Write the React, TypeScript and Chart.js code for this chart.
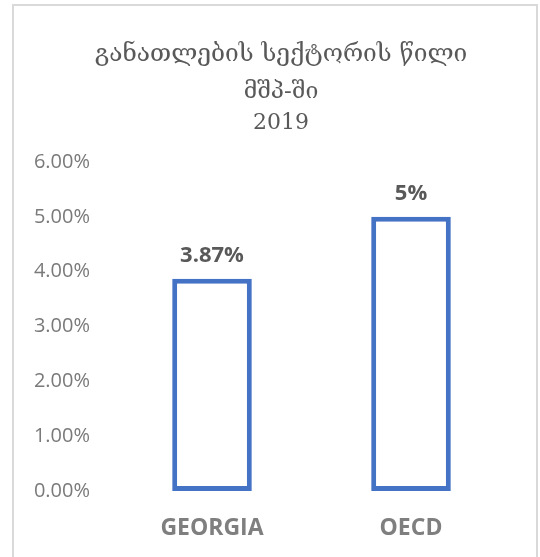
import React, { useEffect, useRef } from "react";
import { Chart, registerables } from "chart.js";

Chart.register(...registerables);

const titleLines = ["განათლების სექტორის წილი", "მშპ-ში", "2019"];
const categories = ["GEORGIA", "OECD"];
const shareValues = [3.87, 5];
const valueLabels = ["3.87%", "5%"];
const yMin = 0;
const yMax = 6;
const yStep = 1;

const titleStyle = {
  centerX: 281,
  baselines: [61, 98, 129],
  sizes: [24.5, 23, 22],
  color: "#595959",
  family: '"DejaVu Serif", serif',
};

const titlePlugin = {
  id: "customTitle",
  afterDraw(chart: any) {
    const ctx = chart.ctx;
    ctx.save();
    ctx.fillStyle = titleStyle.color;
    ctx.textAlign = "center";
    ctx.textBaseline = "alphabetic";
    titleLines.forEach((line, i) => {
      ctx.font = `${titleStyle.sizes[i]}px ${titleStyle.family}`;
      ctx.fillText(line, titleStyle.centerX, titleStyle.baselines[i]);
    });
    ctx.restore();
  },
};

const valueLabelPlugin = {
  id: "valueLabels",
  afterDatasetsDraw(chart: any) {
    const ctx = chart.ctx;
    const meta = chart.getDatasetMeta(0);
    ctx.save();
    ctx.font = 'bold 22px "Open Sans"';
    ctx.fillStyle = "#595959";
    ctx.textAlign = "center";
    ctx.textBaseline = "alphabetic";
    meta.data.forEach((bar: any, i: number) => {
      ctx.fillText(valueLabels[i], bar.x, bar.y - 17);
    });
    ctx.restore();
  },
};

export default function App() {
  const canvasRef = useRef<HTMLCanvasElement | null>(null);

  useEffect(() => {
    if (!canvasRef.current) return;
    const chart = new Chart(canvasRef.current, {
      type: "bar",
      data: {
        labels: categories,
        datasets: [
          {
            data: shareValues,
            backgroundColor: "#ffffff",
            borderColor: "#4472C4",
            borderWidth: 5,
            borderSkipped: false,
            categoryPercentage: 1,
            barPercentage: 0.4,
          },
        ],
      },
      options: {
        responsive: false,
        animation: false,
        layout: { padding: { top: 162, left: 0, right: 29.5, bottom: 0 } },
        plugins: {
          legend: { display: false },
          tooltip: { enabled: false },
          title: { display: false },
        },
        scales: {
          x: {
            grid: { display: false, drawTicks: false },
            border: { display: false },
            ticks: {
              color: "#7f7f7f",
              padding: 24,
              font: { family: '"Open Sans"', size: 23, weight: "bold" },
            },
            afterFit(scale: any) {
              scale.height = 66;
            },
          },
          y: {
            min: yMin,
            max: yMax,
            grid: { display: false, drawTicks: false },
            border: { display: false },
            ticks: {
              stepSize: yStep,
              color: "#7a7a7a",
              padding: 22.5,
              font: { family: '"Open Sans"', size: 20 },
              callback: (v: any) => Number(v).toFixed(2) + "%",
            },
            afterFit(scale: any) {
              scale.width = 112.5;
            },
          },
        },
      },
      plugins: [valueLabelPlugin, titlePlugin],
    });
    return () => chart.destroy();
  }, []);

  return (
    <div style={{ position: "fixed", left: 0, top: 0, width: 540, height: 557, background: "#ffffff", overflow: "hidden" }}>
      <div
        style={{
          position: "absolute",
          left: 12,
          top: 4,
          width: 526,
          height: 600,
          border: "2px solid #d9d9d9",
          boxSizing: "border-box",
        }}
      />
      <canvas ref={canvasRef} width={540} height={557} style={{ position: "absolute", left: 0, top: 0 }} />
    </div>
  );
}
